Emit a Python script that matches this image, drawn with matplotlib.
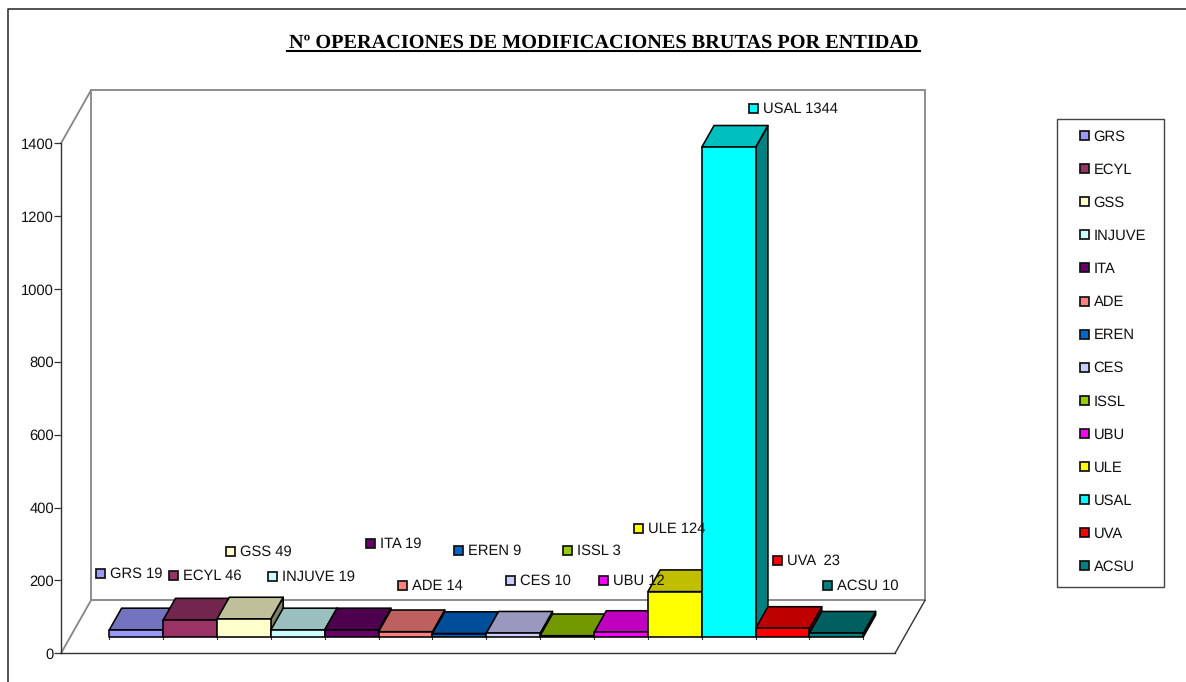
import matplotlib
matplotlib.use("Agg")
import matplotlib.pyplot as plt
from matplotlib.patches import Rectangle, Polygon
from matplotlib.lines import Line2D
from matplotlib.legend_handler import HandlerPatch
from matplotlib.transforms import Affine2D
import matplotlib.colors as mc

W, H = 1186, 682
entities = ["GRS", "ECYL", "GSS", "INJUVE", "ITA", "ADE", "EREN", "CES", "ISSL", "UBU", "ULE", "USAL", "UVA", "ACSU"]
values = [19, 46, 49, 19, 19, 14, 9, 10, 3, 12, 124, 1344, 23, 10]
colors = ["#9999FF", "#993366", "#FFFFCC", "#CCFFFF", "#660066", "#FF8080", "#0066CC", "#CCCCFF",
          "#99CC00", "#FF00FF", "#FFFF00", "#00FFFF", "#FF0000", "#008080"]
label_texts = ["GRS 19", "ECYL 46", "GSS 49", "INJUVE 19", "ITA 19", "ADE 14", "EREN 9", "CES 10",
               "ISSL 3", "UBU 12", "ULE 124", "USAL 1344", "UVA  23", "ACSU 10"]
yticks = [0, 200, 400, 600, 800, 1000, 1200, 1400]
title = "Nº OPERACIONES DE MODIFICACIONES BRUTAS POR ENTIDAD"

# layout (pixels from the top-left of the picture)
label_x = [96, 169, 226, 268, 366, 398, 454, 506, 563, 599, 634, 749, 773, 823]
label_y = [573, 575, 551, 576, 543, 585, 550, 580, 550, 580, 528, 108, 560, 585]
AX_L, AX_R, AX_T, AX_B = 61, 895, 143.3, 653.3
WALL_DX, WALL_DY = 30, 53
BAR_W = 53.86
SHIFT_X, SHIFT_Y = 9.3, 16.5
TOP_DX, TOP_DY = 12.3, 21.7
FS = 10.6

plt.rcParams["font.family"] = ["Liberation Sans", "DejaVu Sans"]
plt.rcParams["text.hinting"] = "none"
fig = plt.figure(figsize=(W / 100, H / 100), dpi=100)
fig.patch.set_facecolor("white")


def fx(x):
    return x / W


def fy(y):
    return 1 - y / H


# outer frame: only left and top sides fall inside the picture
fig.add_artist(Line2D([fx(8), fx(8), fx(1190)], [fy(700), fy(9), fy(9)], color="#222222", lw=1.1))

ax = fig.add_axes([fx(AX_L), fy(AX_B), fx(AX_R - AX_L), (AX_B - AX_T) / H])
ax.patch.set_alpha(0)
ax.set_ylim(0, 1400)
left_margin = (100 - AX_L) / BAR_W
ax.set_xlim(-0.5 - left_margin, -0.5 - left_margin + (AX_R - AX_L) / BAR_W)
ax.set_yticks(yticks)
ax.set_xticks([])
ax.tick_params(axis="y", length=5, width=0.9, labelsize=FS, pad=0, color="#333333", labelcolor="#111111")
for s in ("top", "right"):
    ax.spines[s].set_visible(False)
for s in ("left", "bottom"):
    ax.spines[s].set_linewidth(1.0)
    ax.spines[s].set_color("#333333")

ux = BAR_W
uy = (AX_B - AX_T) / 1400
x0, x1 = ax.get_xlim()
wx, wy = WALL_DX / ux, WALL_DY / uy
wall_kw = dict(color="#858585", lw=1.3, clip_on=False, zorder=1, solid_joinstyle="miter")
ax.plot([x0, x0 + wx, x0 + wx, x0], [1400, 1400 + wy, wy, 0], **wall_kw)
ax.plot([x0 + wx, x1 + wx, x1 + wx, x0 + wx], [1400 + wy, 1400 + wy, wy, wy], **wall_kw)
ax.plot([x1 + wx, x1], [wy, 0], color="#333333", lw=1.0, clip_on=False, zorder=1)

shift = ax.transData + Affine2D().translate(SHIFT_X, SHIFT_Y)
tx, ty = TOP_DX / ux, TOP_DY / uy


def shade(c, k):
    r, g, b = mc.to_rgb(c)
    return (r * k, g * k, b * k)


edge = dict(edgecolor="black", linewidth=1.15, clip_on=False, transform=shift, joinstyle="round")
for i, (v, c) in enumerate(zip(values, colors)):
    l, r = i - 0.5, i + 0.5
    z = 3 + i
    ax.add_patch(Polygon([(r, 0), (r + tx, ty), (r + tx, v + ty), (r, v)], facecolor=shade(c, 0.5), zorder=z, **edge))
    ax.add_patch(Polygon([(l, v), (r, v), (r + tx, v + ty), (l + tx, v + ty)], facecolor=shade(c, 0.75), zorder=z, **edge))
    ax.bar(i, v, width=1, color=c, zorder=z, **edge)
    # small category separators under the bars
    ax.plot([l, l], [0, -2.5 / uy], color="#333333", lw=0.8, clip_on=False, transform=shift, zorder=2)
ax.plot([len(values) - 0.5] * 2, [0, -2.5 / uy], color="#333333", lw=0.8, clip_on=False, transform=shift, zorder=2)

# data labels with colour keys
for x, y, t, c in zip(label_x, label_y, label_texts, colors):
    fig.add_artist(Rectangle((fx(x), fy(y + 4.5)), 9 / W, 9 / H, facecolor=c, edgecolor="#111111",
                             linewidth=1.25, transform=fig.transFigure, zorder=30))
    fig.text(fx(x + 14), fy(y + 1), t, fontsize=FS, va="center", ha="left", color="#111111", zorder=31)

# title with underline
fig.text(fx(603.5), fy(48), title, family=["Liberation Serif", "DejaVu Serif"], weight="bold",
         fontsize=14.6, ha="center", va="baseline", color="black")
fig.add_artist(Line2D([fx(287), fx(920)], [fy(51), fy(51)], color="black", lw=1.5))


class SquareHandler(HandlerPatch):
    def _create_patch(self, legend, orig_handle, xdescent, ydescent, width, height, fontsize, trans=None):
        return Rectangle((width - 6.48 - xdescent, (height - 6.48) / 2 - ydescent), 6.48, 6.48)


# legend box
fig.add_artist(Rectangle((fx(1057), fy(587)), 107 / W, 468 / H, facecolor="white", edgecolor="#444444",
                         linewidth=1.0, transform=fig.transFigure, zorder=5))
handles = [Rectangle((0, 0), 1, 1, facecolor=c, edgecolor="#111111", linewidth=1.25) for c in colors]
leg = fig.legend(handles, entities, loc="upper left", bbox_to_anchor=(fx(1075), fy(130)),
                 borderaxespad=0, borderpad=0, labelspacing=1.296, handlelength=0.95, handleheight=0.7,
                 handletextpad=0.32, fontsize=FS, frameon=False, labelcolor="#111111",
                 handler_map={Rectangle: SquareHandler()})
leg.set_zorder(6)

fig.savefig("out.png", dpi=100)
